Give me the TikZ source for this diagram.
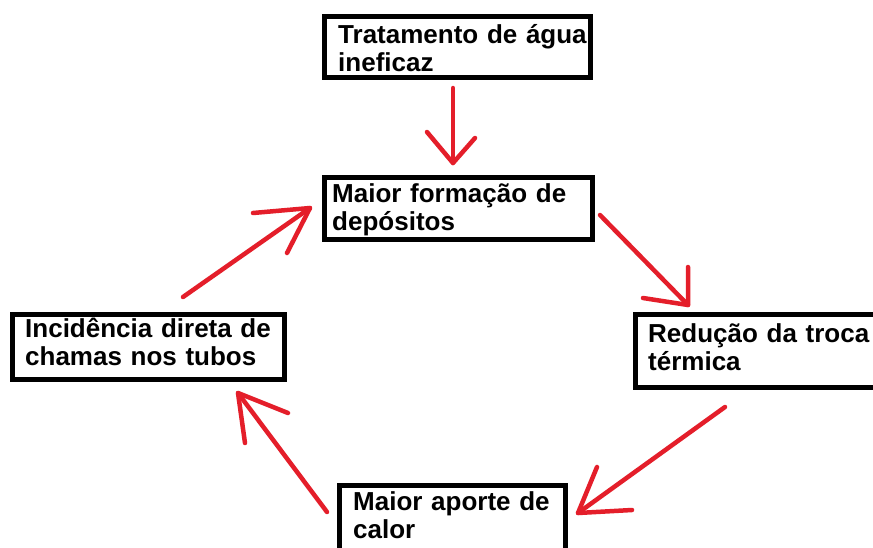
\documentclass[tikz,border=0pt]{standalone}
\usepackage{fontspec}
\setmainfont{Liberation Sans}
\definecolor{arrred}{RGB}{228,30,42}
\begin{document}
\begin{tikzpicture}[x=1pt,y=-1pt,
  frame/.style={draw=black, line width=5pt, rectangle, inner sep=0pt},
  txt/.style={inner sep=0pt, anchor=base west, align=left, text width=300pt,
    font=\fontsize{26}{28.5}\selectfont\bfseries},
  arr/.style={draw=arrred, line width=4.5pt, line cap=round, line join=round}]
\useasboundingbox (0,0) rectangle (873,547);
\clip (0,0) rectangle (873,547);
\fill[white] (0,0) rectangle (873,547);
% frames
\node[frame, minimum width=266pt, minimum height=61pt] (b1) at (457.5,47) {};
\node[frame, minimum width=268pt, minimum height=62pt] (b2) at (458.5,208.5) {};
\node[frame, minimum width=265pt, minimum height=73pt] (b3) at (767.5,351) {};
\node[frame, minimum width=226pt, minimum height=90pt] (b4) at (452.5,530) {};
\node[frame, minimum width=272pt, minimum height=65pt] (b5) at (148.5,347) {};
% texts
\node[txt] (t1) at (338,43) {Tratamento de água\\ineficaz};
\node[txt] (t2) at (332,202) {Maior formação de\\depósitos};
\node[txt] (t3) at (648,342) {Redução da troca\\térmica};
\node[txt] (t4) at (353,510) {Maior aporte de\\calor};
\node[txt] (t5) at (25,337) {Incidência direta de\\chamas nos tubos};
% arrow coordinates
\coordinate (a1s) at (453,88);  \coordinate (a1t) at (453,163);
\coordinate (a1l) at (427,132); \coordinate (a1r) at (475,138);
\coordinate (a2s) at (600,215); \coordinate (a2t) at (688,305);
\coordinate (a2l) at (688,267); \coordinate (a2r) at (643,298);
\coordinate (a3s) at (725,407); \coordinate (a3t) at (578,513);
\coordinate (a3l) at (597,467); \coordinate (a3r) at (632,510);
\coordinate (a4s) at (327,512); \coordinate (a4t) at (238,393);
\coordinate (a4l) at (288,413); \coordinate (a4r) at (245,443);
\coordinate (a5s) at (183,297); \coordinate (a5t) at (310,208);
\coordinate (a5l) at (253,213); \coordinate (a5r) at (287,253);
% arrows
\draw[arr] (a1s) -- (a1t); \draw[arr] (a1l) -- (a1t) -- (a1r);
\draw[arr] (a2s) -- (a2t); \draw[arr] (a2l) -- (a2t) -- (a2r);
\draw[arr] (a3s) -- (a3t); \draw[arr] (a3l) -- (a3t) -- (a3r);
\draw[arr] (a4s) -- (a4t); \draw[arr] (a4l) -- (a4t) -- (a4r);
\draw[arr] (a5s) -- (a5t); \draw[arr] (a5l) -- (a5t) -- (a5r);
\end{tikzpicture}
\end{document}
